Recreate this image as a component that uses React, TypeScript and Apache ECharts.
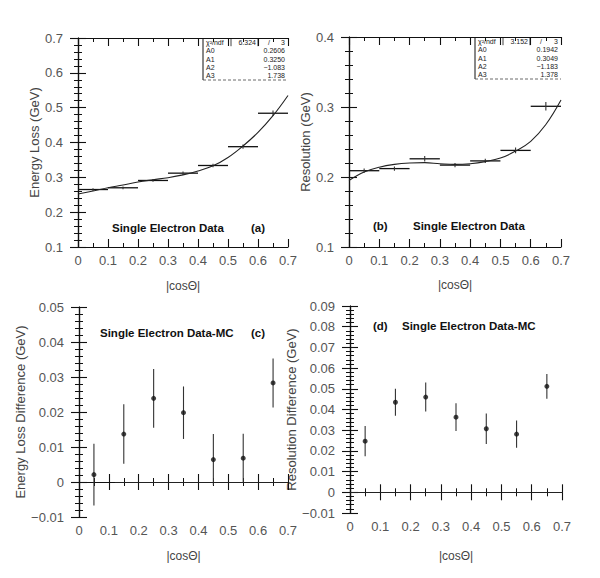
import React, { useEffect, useRef } from "react";
import * as echarts from "echarts";

// ---- data ----
const binCenters = [0.05, 0.15, 0.25, 0.35, 0.45, 0.55, 0.65];
const binHalfWidth = 0.05;

const lossValues = [0.265, 0.27, 0.291, 0.312, 0.334, 0.388, 0.484];
const lossErrors = [0.004, 0.004, 0.004, 0.005, 0.005, 0.006, 0.008];

const resValues = [0.209, 0.212, 0.226, 0.217, 0.223, 0.238, 0.301];
const resErrors = [0.003, 0.003, 0.004, 0.003, 0.003, 0.004, 0.006];

const lossDiff = [0.0021, 0.0137, 0.0239, 0.0198, 0.0064, 0.0068, 0.0283];
const lossDiffErr = [0.0088, 0.0085, 0.0084, 0.0075, 0.0073, 0.007, 0.007];

const resDiff = [0.0247, 0.0435, 0.046, 0.0363, 0.0307, 0.0281, 0.0512];
const resDiffErr = [0.0073, 0.0065, 0.007, 0.0067, 0.0074, 0.0066, 0.006];

const fitX = [0, 0.05, 0.1, 0.15, 0.2, 0.25, 0.3, 0.35, 0.4, 0.45, 0.5, 0.55, 0.6, 0.65, 0.7];
const lossFit = [0.252, 0.261, 0.27, 0.278, 0.2865, 0.293, 0.299, 0.307, 0.318, 0.333, 0.357, 0.39, 0.429, 0.477, 0.535];
const resFit = [0.195, 0.207, 0.214, 0.218, 0.22, 0.2205, 0.219, 0.218, 0.219, 0.222, 0.227, 0.237, 0.251, 0.275, 0.31];

const statLabels = ["A0", "A1", "A2", "A3"];
const statA = { chi2: "6.324", ndf: "3", params: ["0.2606", "0.3250", "\u22121.083", "1.738"] };
const statB = { chi2: "3.152", ndf: "3", params: ["0.1942", "0.3049", "\u22121.183", "1.378"] };

const xTicks = { min: 0, max: 0.7, interval: 0.1 };
const yRanges = [
  { min: 0.1, max: 0.7, interval: 0.1 },
  { min: 0.1, max: 0.4, interval: 0.1 },
  { min: -0.01, max: 0.05, interval: 0.01 },
  { min: -0.01, max: 0.09, interval: 0.01 },
];
const yNames = ["Energy Loss (GeV)", "Resolution (GeV)", "Energy Loss Difference (GeV)", "Resolution Difference (GeV)"];
const xName = "|cos\u0398|";

const FONT = "'Liberation Sans', Arial, Helvetica, sans-serif";
const INK = "#111";
const LABEL = "#555";

const fmt = (v: number) => String(parseFloat(v.toFixed(3))).replace("-", "\u2212");

const grids = [
  { left: 78, top: 38, width: 210, height: 209 },
  { left: 349, top: 37, width: 212, height: 210 },
  { left: 79, top: 307, width: 209, height: 210 },
  { left: 350, top: 306, width: 212, height: 207 },
];
const xNameGaps = [33, 32, 33, 37];
const yNameGaps = [36, 36, 43, 42];

function errorBars(horizontal: boolean) {
  return (params: any, api: any) => {
    const x = api.value(0);
    const y = api.value(1);
    const xe = api.value(2);
    const ye = api.value(3);
    const children: any[] = [];
    const style = { stroke: INK, lineWidth: 1.3 };
    if (horizontal) {
      const a = api.coord([x - xe, y]);
      const b = api.coord([x + xe, y]);
      children.push({ type: "line", shape: { x1: a[0], y1: a[1], x2: b[0], y2: b[1] }, style });
    }
    const c = api.coord([x, y - ye]);
    const d = api.coord([x, y + ye]);
    children.push({ type: "line", shape: { x1: c[0], y1: c[1], x2: d[0], y2: d[1] }, style: { stroke: "#333", lineWidth: 1.1 } });
    return { type: "group", children };
  };
}

function statBox(x0: number, x1: number, y0: number, s: { chi2: string; ndf: string; params: string[] }) {
  const rowH = 8.2;
  const children: any[] = [
    { type: "line", shape: { x1: x0, y1: y0, x2: x0, y2: y0 + 5 * rowH + 1 }, style: { stroke: INK, lineWidth: 1 } },
    { type: "line", shape: { x1: x0, y1: y0 + 5 * rowH + 1, x2: x1, y2: y0 + 5 * rowH + 1 }, style: { stroke: "#444", lineWidth: 0.8, lineDash: [3, 2] } },
    { type: "line", shape: { x1: x0 + 28, y1: y0, x2: x0 + 28, y2: y0 + rowH }, style: { stroke: INK, lineWidth: 0.8 } },
    { type: "line", shape: { x1: x0 + 55, y1: y0, x2: x0 + 55, y2: y0 + rowH }, style: { stroke: INK, lineWidth: 0.8 } },
  ];
  const text = (t: string, x: number, y: number, align: string) => ({
    type: "text",
    x,
    y,
    style: { text: t, fill: "#222", font: `7px ${FONT}`, textAlign: align, textVerticalAlign: "middle" },
  });
  children.push(text("\u03c7\u00b2/ndf", x0 + 3, y0 + rowH / 2 + 0.5, "left"));
  children.push(text(s.chi2, x0 + 53, y0 + rowH / 2 + 0.5, "right"));
  children.push(text("/", x0 + 66, y0 + rowH / 2 + 0.5, "center"));
  children.push(text(s.ndf, x1 - 3, y0 + rowH / 2 + 0.5, "right"));
  statLabels.forEach((l, i) => {
    const y = y0 + rowH * (i + 1) + rowH / 2 + 0.5;
    children.push(text(l, x0 + 3, y, "left"));
    children.push(text(s.params[i], x1 - 3, y, "right"));
  });
  return { type: "group", children };
}

function titleText(t: string, x: number, y: number) {
  return {
    type: "text",
    x,
    y,
    style: { text: t, fill: "#111", font: `bold 11.5px ${FONT}`, textVerticalAlign: "middle" },
  };
}

export default function App() {
  const ref = useRef<HTMLDivElement>(null);
  useEffect(() => {
    document.body.style.margin = "0";
    if (!ref.current) return;
    const chart = echarts.init(ref.current, undefined, { renderer: "svg" });

    const baseAxisLine = { show: true, lineStyle: { color: INK, width: 1.2 } };
    const xAxes: any[] = [];
    const yAxes: any[] = [];
    for (let g = 0; g < 4; g++) {
      xAxes.push({
        type: "value",
        gridIndex: g,
        position: "bottom",
        ...xTicks,
        name: xName,
        nameLocation: "middle",
        nameGap: xNameGaps[g],
        nameTextStyle: { color: "#444", fontFamily: FONT, fontSize: 12 },
        axisLine: baseAxisLine,
        axisTick: { show: true, inside: true, length: 8, lineStyle: { color: INK, width: 1.1 } },
        minorTick: { show: true, splitNumber: 2, length: 4, lineStyle: { color: INK, width: 1 } },
        axisLabel: { color: LABEL, fontFamily: FONT, fontSize: 13, margin: 7, formatter: fmt },
        splitLine: { show: false },
      });
      yAxes.push({
        type: "value",
        gridIndex: g,
        position: "left",
        ...yRanges[g],
        name: yNames[g],
        nameLocation: "middle",
        nameGap: yNameGaps[g],
        nameRotate: 90,
        nameTextStyle: { color: "#444", fontFamily: FONT, fontSize: 13 },
        axisLine: baseAxisLine,
        axisTick: { show: true, inside: true, length: 8, lineStyle: { color: INK, width: 1.1 } },
        minorTick: { show: true, splitNumber: 5, length: 4, lineStyle: { color: INK, width: 1 } },
        axisLabel: { color: LABEL, fontFamily: FONT, fontSize: 13, margin: 15, formatter: fmt },
        splitLine: { show: false },
      });
    }
    for (let g = 0; g < 4; g++) {
      xAxes.push({
        type: "value",
        gridIndex: g,
        position: "top",
        ...xTicks,
        axisLine: baseAxisLine,
        axisTick: { show: true, inside: true, length: 8, lineStyle: { color: INK, width: 1.1 } },
        minorTick: { show: true, splitNumber: 2, length: 4, lineStyle: { color: INK, width: 1 } },
        axisLabel: { show: false },
        splitLine: { show: false },
      });
      yAxes.push({
        type: "value",
        gridIndex: g,
        position: "right",
        ...yRanges[g],
        axisLine: baseAxisLine,
        axisTick: { show: true, inside: true, length: 8, lineStyle: { color: INK, width: 1.1 } },
        minorTick: { show: true, splitNumber: 5, length: 4, lineStyle: { color: INK, width: 1 } },
        axisLabel: { show: false },
        splitLine: { show: false },
      });
    }

    const series: any[] = [
      {
        type: "line",
        xAxisIndex: 0,
        yAxisIndex: 0,
        data: fitX.map((x, i) => [x, lossFit[i]]),
        smooth: 0.4,
        showSymbol: false,
        lineStyle: { color: "#222", width: 1.1 },
      },
      {
        type: "custom",
        xAxisIndex: 0,
        yAxisIndex: 0,
        renderItem: errorBars(true),
        data: binCenters.map((x, i) => [x, lossValues[i], binHalfWidth, lossErrors[i]]),
        encode: { x: 0, y: 1 },
      },
      {
        type: "line",
        xAxisIndex: 1,
        yAxisIndex: 1,
        data: fitX.map((x, i) => [x, resFit[i]]),
        smooth: 0.4,
        showSymbol: false,
        lineStyle: { color: "#222", width: 1.1 },
      },
      {
        type: "custom",
        xAxisIndex: 1,
        yAxisIndex: 1,
        renderItem: errorBars(true),
        data: binCenters.map((x, i) => [x, resValues[i], binHalfWidth, resErrors[i]]),
        encode: { x: 0, y: 1 },
      },
      {
        type: "custom",
        xAxisIndex: 2,
        yAxisIndex: 2,
        renderItem: errorBars(false),
        data: binCenters.map((x, i) => [x, lossDiff[i], 0, lossDiffErr[i]]),
        encode: { x: 0, y: 1 },
      },
      {
        type: "scatter",
        xAxisIndex: 2,
        yAxisIndex: 2,
        data: binCenters.map((x, i) => [x, lossDiff[i]]),
        symbol: "circle",
        symbolSize: 5,
        itemStyle: { color: INK },
        markLine: {
          silent: true,
          symbol: "none",
          label: { show: false },
          lineStyle: { color: "#222", width: 1, type: "solid" },
          data: [[{ coord: [0.12, 0] }, { coord: [0.7, 0] }]],
        },
      },
      {
        type: "custom",
        xAxisIndex: 3,
        yAxisIndex: 3,
        renderItem: errorBars(false),
        data: binCenters.map((x, i) => [x, resDiff[i], 0, resDiffErr[i]]),
        encode: { x: 0, y: 1 },
      },
      {
        type: "scatter",
        xAxisIndex: 3,
        yAxisIndex: 3,
        data: binCenters.map((x, i) => [x, resDiff[i]]),
        symbol: "circle",
        symbolSize: 5,
        itemStyle: { color: INK },
        markLine: {
          silent: true,
          symbol: "none",
          label: { show: false },
          lineStyle: { color: "#222", width: 1.2, type: "solid" },
          data: [[{ coord: [0, 0] }, { coord: [0.7, 0] }]],
        },
      },
    ];

    chart.setOption({
      animation: false,
      backgroundColor: "#fff",
      textStyle: { fontFamily: FONT },
      grid: grids.map((g) => ({ ...g, containLabel: false })),
      xAxis: xAxes,
      yAxis: yAxes,
      series,
      graphic: [
        statBox(203, 288, 38, statA),
        statBox(475, 561, 37, statB),
        titleText("Single Electron Data", 112, 228),
        titleText("(a)", 251, 228),
        titleText("(b)", 373, 226),
        titleText("Single Electron Data", 413, 226),
        titleText("Single Electron Data-MC", 100, 333),
        titleText("(c)", 251, 333),
        titleText("(d)", 373, 326),
        titleText("Single Electron Data-MC", 402, 326),
      ],
    });
    return () => chart.dispose();
  }, []);
  return <div ref={ref} style={{ width: 600, height: 578 }} />;
}
